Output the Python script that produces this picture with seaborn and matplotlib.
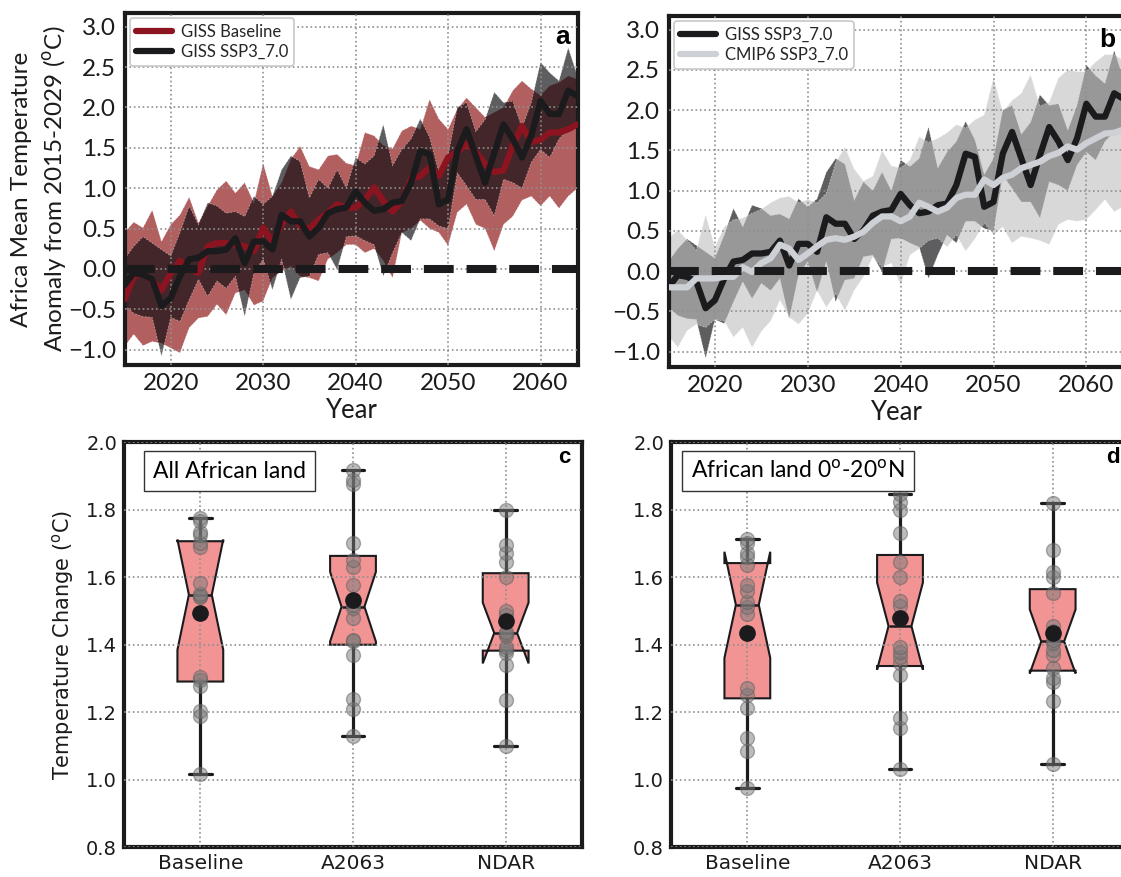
"""
Africa temperature anomaly panels (a, b) and scenario box plots (c, d).
Saves the figure to out.png.
"""

import numpy as np
import pandas as pd
import matplotlib.pyplot as plt
import seaborn as sns

# ---------------- data ----------------
years = np.arange(2015, 2065)

giss_base_mean = [-0.38, -0.09, -0.05, -0.15, -0.26, -0.05, 0.10, 0.00, -0.05, 0.28,
                  0.32, 0.32, 0.30, 0.28, 0.22, 0.51, 0.34, 0.55, 0.71, 0.53,
                  0.50, 0.61, 0.70, 0.80, 0.76, 0.76, 0.86, 1.01, 0.84, 0.71,
                  0.84, 1.12, 1.15, 1.26, 1.15, 1.38, 1.45, 1.55, 1.45, 1.30,
                  1.20, 1.22, 1.53, 1.77, 1.57, 1.60, 1.69, 1.69, 1.73, 1.79]
giss_base_hi = [0.45, 0.58, 0.51, 0.73, 0.34, 0.55, 0.67, 0.89, 0.57, 0.78,
                0.98, 1.09, 0.94, 1.07, 0.82, 1.31, 0.90, 1.07, 1.36, 1.52,
                1.27, 1.23, 1.40, 1.42, 1.31, 1.28, 1.69, 1.65, 1.53, 1.49,
                1.71, 1.77, 1.73, 2.10, 1.86, 1.73, 1.98, 2.12, 2.00, 1.88,
                1.94, 2.00, 2.21, 2.33, 2.23, 2.15, 2.27, 2.31, 2.39, 2.35]
giss_base_lo = [-0.96, -0.81, -0.95, -0.90, -0.92, -0.98, -1.04, -0.73, -0.61, -0.59,
                -0.44, -0.57, -0.30, -0.26, -0.45, -0.40, -0.11, -0.03, 0.03, -0.09,
                -0.11, -0.15, 0.12, 0.20, 0.30, 0.30, 0.20, 0.25, 0.10, -0.11,
                0.45, 0.50, 0.60, 0.50, 0.45, 0.29, 0.70, 0.80, 0.55, 0.50,
                0.22, 0.55, 0.65, 0.85, 0.90, 0.78, 0.90, 0.75, 0.90, 1.00]

giss_ssp_mean = [-0.20, -0.05, -0.07, -0.13, -0.46, -0.36, -0.09, 0.12, 0.14, 0.22,
                 0.22, 0.24, 0.38, 0.07, 0.34, 0.34, 0.24, 0.67, 0.59, 0.59,
                 0.40, 0.51, 0.69, 0.74, 0.76, 0.96, 0.82, 0.72, 0.74, 0.82,
                 0.84, 1.07, 1.46, 1.42, 0.80, 0.86, 1.46, 1.73, 1.40, 1.07,
                 1.44, 1.79, 1.61, 1.38, 1.65, 2.08, 1.92, 1.92, 2.21, 2.14]
giss_ssp_hi = [0.12, 0.28, 0.40, 0.32, 0.24, 0.16, 0.45, 0.78, 0.55, 0.82,
               0.78, 0.69, 0.71, 0.65, 0.90, 0.80, 0.90, 1.23, 1.40, 1.33,
               0.88, 1.11, 1.00, 1.23, 1.00, 1.38, 1.30, 1.40, 1.79, 1.28,
               1.48, 1.61, 1.86, 1.63, 1.20, 1.40, 2.00, 2.06, 1.70, 1.85,
               2.19, 2.06, 2.08, 1.75, 2.06, 2.56, 2.43, 2.33, 2.74, 2.39]
giss_ssp_lo = [-0.45, -0.55, -0.59, -0.60, -1.08, -0.60, -0.65, -0.38, -0.13, -0.34,
               -0.15, -0.24, -0.09, -0.59, -0.05, 0.12, -0.26, 0.12, -0.38, -0.11,
               -0.09, 0.18, 0.20, -0.01, 0.40, 0.41, 0.35, 0.30, -0.09, 0.20,
               0.45, 0.35, 0.62, 0.62, 0.53, 0.50, 1.19, 1.03, 0.86, 0.86,
               0.66, 1.11, 1.07, 1.00, 1.32, 1.48, 1.38, 1.61, 1.73, 1.77]

cmip_ssp_mean = [-0.20, -0.20, -0.20, -0.09, -0.09, -0.09, -0.07, -0.07, 0.05, -0.01,
                 0.10, 0.16, 0.33, 0.28, 0.14, 0.22, 0.31, 0.39, 0.41, 0.39,
                 0.43, 0.49, 0.60, 0.68, 0.68, 0.62, 0.68, 0.85, 0.80, 0.74,
                 0.79, 0.91, 0.95, 0.95, 1.14, 1.07, 1.16, 1.20, 1.28, 1.32,
                 1.36, 1.43, 1.47, 1.55, 1.51, 1.59, 1.65, 1.71, 1.72, 1.76]
cmip_ssp_hi = [0.41, 0.51, 0.39, 0.26, 0.70, 0.30, 0.55, 0.64, 0.66, 0.72,
               0.77, 0.85, 0.91, 0.93, 0.85, 0.89, 0.85, 0.97, 1.35, 1.54,
               1.27, 1.12, 1.18, 1.50, 1.31, 1.28, 1.38, 1.67, 1.60, 1.65,
               1.72, 1.82, 1.78, 1.88, 1.94, 2.40, 1.98, 2.12, 2.21, 2.44,
               2.05, 2.10, 2.40, 2.50, 2.48, 2.48, 2.60, 2.69, 2.69, 2.62]
cmip_ssp_lo = [-0.80, -0.95, -0.74, -0.66, -0.70, -0.60, -0.62, -0.82, -0.70, -0.95,
               -0.75, -0.62, -0.36, -0.57, -0.66, -0.53, -0.24, -0.45, -0.28, -0.49,
               -0.24, -0.07, 0.18, 0.05, 0.10, -0.17, 0.20, 0.28, 0.38, 0.41,
               0.30, 0.45, 0.25, 0.40, 0.60, 0.45, 0.55, 0.35, 0.43, 0.41,
               0.38, 0.33, 0.58, 0.64, 0.62, 0.64, 0.76, 0.89, 0.74, 0.80]

scenarios = ["Baseline", "A2063", "NDAR"]

# panel c: all African land
c_baseline = [1.015, 1.187, 1.202, 1.276, 1.295, 1.305, 1.540, 1.545,
              1.550, 1.583, 1.690, 1.700, 1.724, 1.734, 1.766, 1.776]
c_a2063 = [1.130, 1.210, 1.240, 1.370, 1.409, 1.414, 1.478, 1.507,
           1.517, 1.576, 1.630, 1.650, 1.700, 1.877, 1.887, 1.916]
c_ndar = [1.099, 1.236, 1.340, 1.375, 1.384, 1.394, 1.424, 1.430,
          1.438, 1.488, 1.498, 1.600, 1.645, 1.670, 1.695, 1.800]

# panel d: African land 0-20N
d_baseline = [0.975, 1.084, 1.123, 1.212, 1.250, 1.270, 1.490, 1.510,
              1.525, 1.560, 1.575, 1.635, 1.660, 1.670, 1.700, 1.714]
d_a2063 = [1.030, 1.153, 1.182, 1.310, 1.345, 1.364, 1.379, 1.394,
           1.515, 1.530, 1.600, 1.644, 1.729, 1.800, 1.823, 1.847]
d_ndar = [1.046, 1.232, 1.290, 1.300, 1.330, 1.370, 1.384, 1.404,
          1.414, 1.440, 1.455, 1.552, 1.600, 1.616, 1.680, 1.820]

# ---------------- style ----------------
sns.set_style("white")
plt.rcParams["font.family"] = ["Lato", "DejaVu Sans"]

INK = "#1b1b1e"
RED = "#8c1420"
RED_BAND = "#b25f5f"
DARK_BAND = (0.03, 0.03, 0.05, 0.65)
CMIP_BAND = (0.75, 0.75, 0.75, 0.60)
CMIP_LINE = "#cdd0d4"
BOX = "#f29494"
GRID = "#8f8f8f"

W, H = 1121, 877
fig = plt.figure(figsize=(W / 100, H / 100), dpi=100)


def px_axes(left, top, right, bottom):
    return fig.add_axes([left / W, 1 - bottom / H, (right - left) / W, (bottom - top) / H])


ax_a = px_axes(124.5, 13, 577.5, 365)
ax_b = px_axes(668.5, 16, 1123.5, 367)
ax_c = px_axes(124, 442, 582, 847)
ax_d = px_axes(671, 442, 1129, 847)


def style_axes(ax, family, size, pad=2):
    for s in ax.spines.values():
        s.set_linewidth(3)
        s.set_color(INK)
    ax.grid(True, ls=":", color=GRID, lw=1.2)
    ax.set_axisbelow(False)
    ax.tick_params(length=3, width=1, color=INK, labelsize=size, labelcolor=INK,
                   pad=pad, labelfontfamily=family)


def band(ax, lo, hi, face, z):
    ax.fill_between(years, lo, hi, facecolor=face, edgecolor=(1, 1, 1, 0.45),
                    lw=0.6, ls=(0, (2, 2)), zorder=z)


# ---------------- panel a ----------------
band(ax_a, giss_base_lo, giss_base_hi, RED_BAND, 1)
band(ax_a, giss_ssp_lo, giss_ssp_hi, DARK_BAND, 1.2)
sns.lineplot(x=years, y=giss_base_mean, ax=ax_a, color=RED, lw=4.5,
             label="GISS Baseline", zorder=4)
sns.lineplot(x=years, y=giss_ssp_mean, ax=ax_a, color=INK, lw=4.5,
             label="GISS SSP3_7.0", zorder=4.5)

# ---------------- panel b ----------------
band(ax_b, giss_ssp_lo, giss_ssp_hi, DARK_BAND, 1)
band(ax_b, cmip_ssp_lo, cmip_ssp_hi, CMIP_BAND, 1.2)
sns.lineplot(x=years, y=giss_ssp_mean, ax=ax_b, color=INK, lw=4.5,
             label="GISS SSP3_7.0", zorder=4)
sns.lineplot(x=years, y=cmip_ssp_mean, ax=ax_b, color=CMIP_LINE, lw=4.5,
             label="CMIP6 SSP3_7.0", zorder=4.5)

for ax, tag in [(ax_a, "a"), (ax_b, "b")]:
    ax.axhline(0, color=INK, lw=5.8, ls="--", zorder=6)
    ax.set_xlim(2015, 2064)
    ax.set_ylim(-1.19, 3.17)
    ax.set_xticks([2020, 2030, 2040, 2050, 2060])
    ax.set_yticks(np.arange(-1.0, 3.01, 0.5))
    style_axes(ax, "Lato", 17.5, pad=3)
    ax.set_xlabel("Year", fontsize=18.5, color=INK, labelpad=3)
    ax.set_ylabel("")
    leg = ax.legend(loc="upper left", bbox_to_anchor=(0.012, 0.986), borderaxespad=0,
                    fontsize=12, handlelength=2.2, handletextpad=0.5, labelspacing=0.25,
                    borderpad=0.35, frameon=True, edgecolor="#c8c8c8", framealpha=1)
    leg.get_frame().set_linewidth(1.2)
    ax.text(0.983, 0.965, tag, transform=ax.transAxes, ha="right", va="top",
            fontsize=19, fontweight="bold", family="Liberation Sans", color="black")

ax_a.set_ylabel("Africa Mean Temperature\nAnomaly from 2015-2029 ($^{\\rm o}$C)",
                fontsize=17.5, color=INK, labelpad=-1, linespacing=1.45)

# ---------------- panels c, d ----------------
panels = [
    (ax_c, [c_baseline, c_a2063, c_ndar], "All African land", "c"),
    (ax_d, [d_baseline, d_a2063, d_ndar], "African land 0$^{\\rm o}$-20$^{\\rm o}$N", "d"),
]
for ax, groups, title, tag in panels:
    df = pd.DataFrame({
        "scenario": np.repeat(scenarios, [len(g) for g in groups]),
        "value": np.concatenate(groups),
    })
    sns.boxplot(data=df, x="scenario", y="value", order=scenarios, ax=ax,
                width=0.3, color=BOX, saturation=1, linecolor=INK, linewidth=1.5,
                notch=True, showmeans=True, showfliers=False,
                meanprops=dict(marker="o", markerfacecolor=INK, markeredgecolor=INK,
                               markersize=11),
                whiskerprops=dict(linewidth=2.3), capprops=dict(linewidth=2.3),
                medianprops=dict(linewidth=1.8))
    sns.stripplot(data=df, x="scenario", y="value", order=scenarios, ax=ax,
                  jitter=False, color="#7a7a7a", alpha=0.5, size=10,
                  linewidth=1, edgecolor="#5e5e5e")
    for coll in ax.collections:
        coll.set_zorder(3.5)
    for ln in ax.lines:
        if ln.get_marker() == "o":
            ln.set_zorder(5)
        else:
            ln.set_zorder(3)
    ax.set_xlim(-0.5, 2.5)
    ax.set_ylim(0.8, 2.0)
    ax.set_yticks(np.arange(0.8, 2.01, 0.2))
    style_axes(ax, "DejaVu Sans", 14)
    ax.tick_params(axis="x", labelsize=14.5)
    ax.set_xlabel("")
    ax.set_ylabel("")
    ax.text(0.063 if tag == "c" else 0.044, 0.928, title, transform=ax.transAxes,
            ha="left", va="center", fontsize=16.5, color="black", zorder=7,
            bbox=dict(boxstyle="square,pad=0.4", fc="white", ec="#333333", lw=1))
    ax.text(0.975 if tag == "c" else 0.98, 0.988, tag, transform=ax.transAxes,
            ha="right", va="top", fontsize=16, fontweight="bold",
            family="Liberation Sans", color="black")

ax_c.set_ylabel("Temperature Change ($^{\\rm o}$C)", fontsize=15, color=INK,
                labelpad=7, family="DejaVu Sans")

plt.savefig("out.png", dpi=100)
plt.close()
